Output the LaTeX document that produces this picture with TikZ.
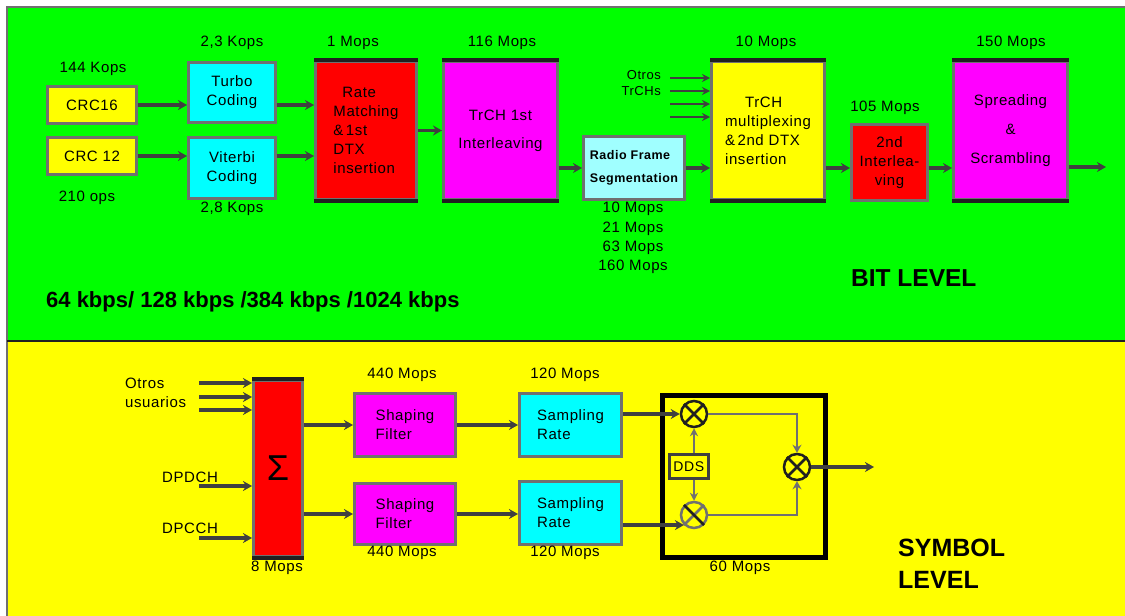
\documentclass[tikz,border=0pt]{standalone}
\usepackage{fontspec}
\setmainfont[LetterSpace=4]{Liberation Sans}
\newfontfamily\titlefont{Liberation Sans}
\usetikzlibrary{arrows.meta}
\definecolor{bgreen}{HTML}{00FF00}
\definecolor{byellow}{HTML}{FFFF00}
\definecolor{bcyan}{HTML}{00FFFF}
\definecolor{blcyan}{HTML}{A0FFFF}
\definecolor{bred}{HTML}{FF0000}
\definecolor{bmag}{HTML}{FF00FF}
\definecolor{bordergray}{HTML}{707070}
\definecolor{arrowgray}{HTML}{404040}
\definecolor{edgedark}{HTML}{202020}
\newcommand\lblfont{\fontsize{15}{19}\selectfont}
\tikzset{
  box/.style={draw=bordergray, line width=3pt, inner sep=0pt, anchor=north west, font=\lblfont},
  lbl/.style={inner sep=0pt, font=\lblfont},
  darkedge/.style={draw=edgedark, line width=4pt},
  arr/.style={draw=arrowgray, line width=3.2pt, -{Stealth[length=9pt,width=10pt]}},
  arrsm/.style={draw=arrowgray, line width=2.6pt, -{Stealth[length=8pt,width=8pt]}},
  thinarr/.style={draw=bordergray, line width=2.4pt, -{Stealth[length=8pt,width=9pt]}},
  mixer/.style={circle, draw=edgedark, line width=2.5pt, minimum size=26pt, inner sep=0pt},
  title/.style={inner sep=0pt, font=\titlefont\bfseries},
}
\begin{document}
\begin{tikzpicture}[x=1pt,y=-1pt]
\useasboundingbox (0,0) rectangle (1125,616);
% backgrounds
\fill[white] (0,0) rectangle (1125,616);
\fill[bgreen] (7,7) rectangle (1125,340);
\fill[byellow] (7,340) rectangle (1125,616);
\draw[bordergray, line width=1.5pt] (1125,7) -- (7,7) -- (7,616);
\draw[edgedark, line width=2pt] (7,340.5) -- (1125,340.5);

% ===== BIT LEVEL =====
\node[box, fill=byellow, minimum width=89, minimum height=37] (crc16) at (46,85) {CRC16};
\node[box, fill=byellow, minimum width=89, minimum height=37] (crc12) at (46,136) {CRC 12};
\node[box, fill=bcyan, minimum width=87, minimum height=60, align=center] (turbo) at (187,61) {Turbo\\Coding};
\node[box, fill=bcyan, minimum width=87, minimum height=61, align=center] (viterbi) at (187,136) {Viterbi\\Coding};
\node[box, fill=bred, minimum width=101, minimum height=138, align=left] (rm) at (314,60) {\hspace*{9pt}Rate\\Matching\\\&\,1st\\DTX\\insertion};
\node[box, fill=bmag, minimum width=114, minimum height=138, align=center] (trch1) at (442,60) {TrCH 1st\\[9pt]Interleaving};
\node[box, fill=blcyan, minimum width=101, minimum height=63, align=left, font=\fontsize{12.5}{23}\selectfont\bfseries] (rfs) at (582,135) {Radio Frame\\Segmentation};
\node[box, fill=byellow, minimum width=113, minimum height=138, align=left] (mux) at (710,60) {\hspace*{20pt}TrCH\\multiplexing\\\&\,2nd DTX\\insertion};
\node[box, fill=bred, minimum width=76, minimum height=76, align=center] (int2) at (850,123) {2nd\\Interlea-\\ving};
\node[box, fill=bmag, minimum width=114, minimum height=138, align=center] (spread) at (952,60) {Spreading\\[10pt]\&\\[10pt]Scrambling};

\foreach \n in {rm,trch1,mux,spread}{
  \draw[darkedge] (\n.north west) -- (\n.north east) (\n.south west) -- (\n.south east);
}

% labels
\node[lbl] (l144) at (93,69) {144 Kops};
\node[lbl] (l210) at (87,198) {210 ops};
\node[lbl] (l23) at (232,43) {2,3 Kops};
\node[lbl] (l28) at (232,209) {2,8 Kops};
\node[lbl] (l1) at (353,43) {1 Mops};
\node[lbl] (l116) at (502,43) {116 Mops};
\node[lbl, align=center, font=\fontsize{15}{19.3}\selectfont] (lrfs) at (633,238) {10 Mops\\21 Mops\\63 Mops\\160 Mops};
\node[lbl, anchor=east, align=right, font=\fontsize{13}{16}\selectfont] (lotros) at (661,83) {Otros\\TrCHs};
\node[lbl] (l10) at (766,43) {10 Mops};
\node[lbl] (l105) at (885,108) {105 Mops};
\node[lbl] (l150) at (1011,43) {150 Mops};
\node[title, anchor=west, font=\titlefont\bfseries\fontsize{22}{24}\selectfont] (rates) at (46,302) {64 kbps/ 128 kbps /384 kbps /1024 kbps};
\node[title, anchor=west, font=\titlefont\bfseries\fontsize{24.5}{28}\selectfont] (bitlevel) at (851,278) {BIT LEVEL};

% connectors
\draw[arr] (crc16.east) -- (crc16.east -| turbo.west);
\draw[arr] (crc12.east) -- (crc12.east -| viterbi.west);
\draw[arr] (turbo.east |- crc16.east) -- (rm.west |- crc16.east);
\draw[arr] (viterbi.east |- crc12.east) -- (rm.west |- crc12.east);
\draw[arr] (rm.east) -- (trch1.west);
\draw[arr] (trch1.east |- rfs.west) -- (rfs.west);
\draw[arr] (rfs.east) -- (rfs.east -| mux.west);
\draw[arr] (mux.east |- rfs.east) -- (int2.west |- rfs.east);
\draw[arr] (int2.east |- rfs.east) -- (spread.west |- rfs.east);
\coordinate (out1) at (1106,167);
\draw[arr] (spread.east |- out1) -- (out1);
\foreach \yy [count=\i] in {78,91,104,117}{
  \coordinate (o\i) at (670,\yy);
  \draw[arrsm] (o\i) -- (o\i -| mux.west);
}

% ===== SYMBOL LEVEL =====
\node[box, fill=bred, minimum width=49, minimum height=176, font=\titlefont\fontsize{36}{36}\selectfont] (sum) at (252,379) {Σ};
\draw[darkedge] (sum.north west) -- (sum.north east) (sum.south west) -- (sum.south east);
\node[box, fill=bmag, minimum width=101, minimum height=63, align=left] (sf1) at (353,392) {Shaping\\Filter};
\node[box, fill=bmag, minimum width=101, minimum height=61, align=left] (sf2) at (353,482) {Shaping\\Filter};
\node[box, fill=bcyan, minimum width=102, minimum height=63, align=left] (sr1) at (518,392) {Sampling\\Rate};
\node[box, fill=bcyan, minimum width=102, minimum height=63, align=left] (sr2) at (518,480) {Sampling\\Rate};
\node[draw=black, line width=5pt, inner sep=0pt, minimum width=163, minimum height=162, anchor=north west] (bigbox) at (660,393) {};
\node[mixer] (m1) at (694,414) {};
\node[mixer, draw=bordergray] (m2) at (694,515) {};
\node[mixer] (m3) at (797,467) {};
\draw[edgedark, line width=2.5pt] (m1.north west) -- (m1.south east) (m1.north east) -- (m1.south west);
\draw[bordergray, line width=2.5pt] (m2.north east) -- (m2.south west);
\draw[edgedark, line width=2.5pt] (m2.north west) -- (m2.south east);
\draw[edgedark, line width=2.5pt] (m3.north west) -- (m3.south east) (m3.north east) -- (m3.south west);
\node[box, fill=byellow, draw=arrowgray, line width=2.5pt, minimum width=39, minimum height=24, font=\fontsize{14}{16}\selectfont] (dds) at (668,453) {DDS};

% labels
\node[lbl, anchor=west, align=left] (lotrosu) at (125,392.5) {Otros\\usuarios};
\node[lbl, anchor=west] (ldpdch) at (162,477) {DPDCH};
\node[lbl, anchor=west] (ldpcch) at (162,528) {DPCCH};
\node[lbl] (l8) at (277,568) {8 Mops};
\node[lbl] (l440a) at (402,375) {440 Mops};
\node[lbl] (l440b) at (402,553) {440 Mops};
\node[lbl] (l120a) at (565,375) {120 Mops};
\node[lbl] (l120b) at (565,553) {120 Mops};
\node[lbl] (l60) at (740,568) {60 Mops};
\node[title, anchor=west, align=left, font=\titlefont\bfseries\fontsize{25}{32}\selectfont] (symlevel) at (898,564) {SYMBOL\\LEVEL};

% connectors
\foreach \yy [count=\i] in {383,397,410,486,538}{
  \coordinate (u\i) at (199,\yy);
  \draw[arr] (u\i) -- (u\i -| sum.west);
}
\draw[arr] (sum.east |- sf1.west) -- (sf1.west);
\draw[arr] (sum.east |- sf2.west) -- (sf2.west);
\draw[arr] (sf1.east) -- (sf1.east -| sr1.west);
\draw[arr] (sf2.east) -- (sf2.east -| sr2.west);
\draw[arr] (sr1.east |- m1.west) -- (m1.west);
\draw[arr] (sr2.east |- m2.south west) -- (m2.south west);
\draw[arrsm, draw=bordergray] (m1.south |- dds.north) -- (m1.south);
\draw[arrsm, draw=bordergray] (m2.north |- dds.south) -- (m2.north);
\draw[thinarr] (m1.east) -| (m3.north);
\draw[thinarr] (m2.east) -| (m3.south);
\coordinate (out2) at (874,467);
\draw[arr] (m3.east) -- (out2);
\end{tikzpicture}
\end{document}
